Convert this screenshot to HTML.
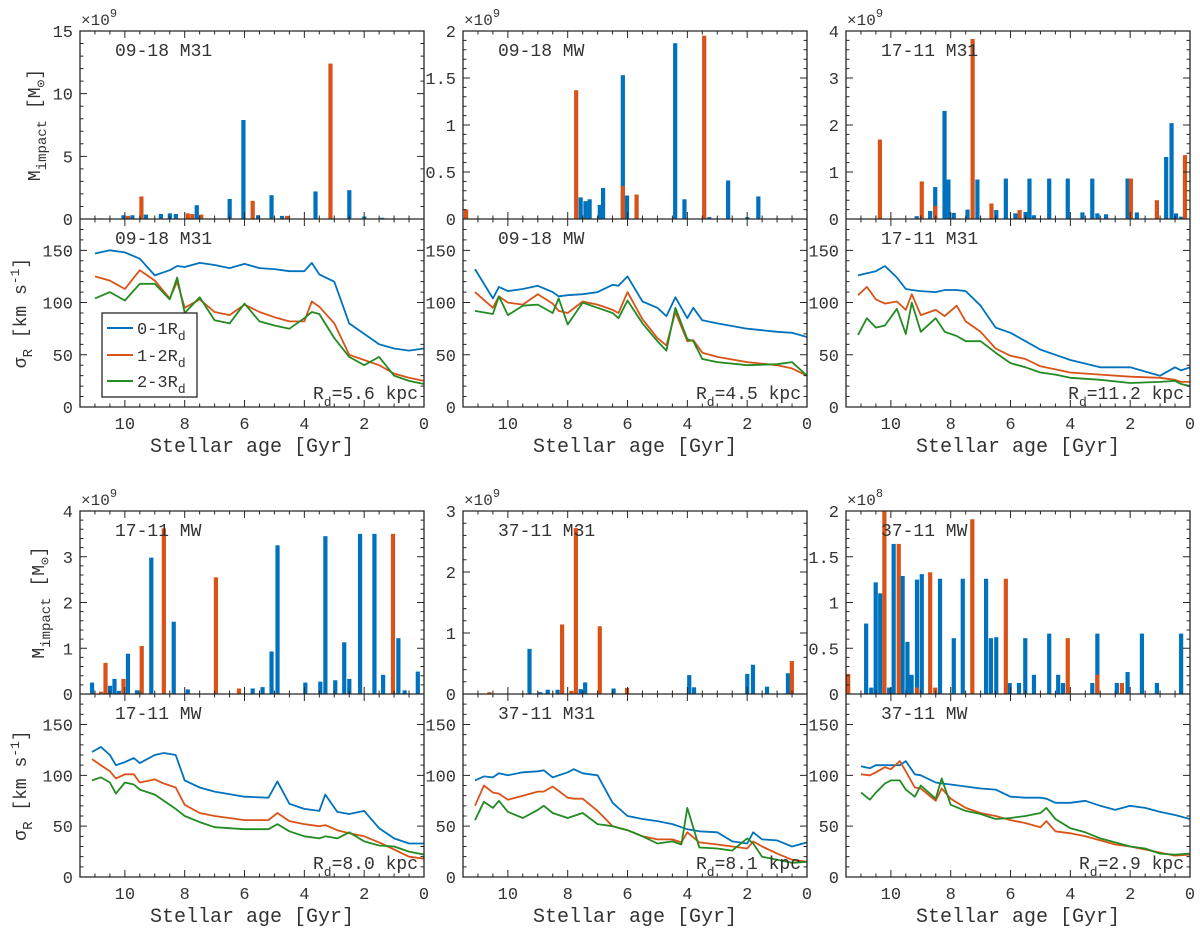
<!DOCTYPE html>
<html><head><meta charset="utf-8">
<style>
html,body{margin:0;padding:0;background:#fff;}
svg{display:block;}
text{font-family:"Liberation Mono","DejaVu Sans Mono",monospace;fill:#333;}
</style></head>
<body>
<svg id="fig" width="1200" height="934" viewBox="0 0 1200 934" xmlns="http://www.w3.org/2000/svg"></svg>
<script>
// ---------- DATA ----------
// Panel 1: 09-18 M31
const p1Ages   = [11,10.5,10,9.5,9,8.5,8.25,8,7.5,7,6.5,6,5.5,5,4.5,4,3.75,3.5,3,2.5,2,1.5,1,0.5,0];
const p1Blue   = [147,150,148,142,126,131,135,134,138,136,133,137,133,132,130,130,138,127,120,80,70,60,56,54,56];
const p1Orange = [125,121,113,131,121,104,120,95,103,91,88,98,91,86,82,82,101,96,80,50,45,40,32,28,25];
const p1Green  = [104,110,102,118,118,103,124,90,105,83,80,99,82,78,75,85,91,89,66,48,40,48,30,25,22];
const p1BarBlueAges  = [6.04,2.5,3.63,5.1,6.5,7.6,9.3,9.75,10.05,8.8,8.5,8.3,4.75,2.0,1.4,5.55];
const p1BarBlueVals  = [7.9,2.3,2.2,1.9,1.6,1.1,0.35,0.3,0.3,0.4,0.45,0.4,0.25,0.2,0.1,0.3];
const p1BarOrangeAges= [3.13,9.45,5.73,7.9,7.75,7.45,9.9,4.58,10.8];
const p1BarOrangeVals= [12.4,1.8,1.45,0.45,0.4,0.35,0.25,0.25,0.05];
const p1TopTicks = [0,5,10,15];

// Panel 2: 09-18 MW
const p2Ages   = [11.1,10.5,10.3,10,9.5,9,8.5,8.3,8,7.5,7,6.5,6.3,6,5.5,5,4.7,4.4,4,3.8,3.5,3,2,1,0.5,0];
const p2Blue   = [132,104,115,111,113,116,110,106,107,108,110,117,116,125,101,95,87,105,85,95,83,80,75,72,71,67];
const p2Orange = [110,95,106,100,98,108,99,92,90,101,98,93,90,110,84,66,59,91,63,64,52,48,43,40,37,30];
const p2Green  = [92,89,106,88,97,98,90,104,79,100,95,90,85,102,80,63,54,95,65,63,46,43,40,41,43,30];
const p2BarBlueAges  = [4.41,6.16,2.64,4.1,1.63,6.02,7.57,7.41,7.27,6.93,6.82,3.27,2.0];
const p2BarBlueVals  = [1.87,1.53,0.41,0.21,0.24,0.25,0.23,0.19,0.21,0.15,0.33,0.02,0.02];
const p2BarOrangeAges= [3.44,7.72,6.16,5.7,11.4];
const p2BarOrangeVals= [1.95,1.37,0.35,0.26,0.1];
const p2TopTicks = [0,0.5,1,1.5,2];

// Panel 3: 17-11 M31
const p3Ages   = [11.1,10.8,10.5,10.2,9.8,9.5,9.3,9,8.5,8.2,7.8,7.5,7,6.5,6,5.5,5,4.5,4,3,2,1,0.5,0.3,0];
const p3Blue   = [126,128,130,135,124,113,112,111,110,112,112,111,97,76,71,63,55,50,45,38,38,30,38,35,38];
const p3Orange = [107,115,103,99,101,93,108,88,93,87,97,82,72,56,49,46,39,36,33,31,29,28,26,24,24];
const p3Green  = [69,85,76,78,94,70,100,72,85,72,68,63,63,52,42,38,33,31,28,26,23,24,25,22,20];
const p3BarBlueAges  = [8.21,8.08,0.62,0.8,7.11,6.16,5.37,4.71,4.09,3.27,2.09,8.52,8.69,7.9,7.44,6.48,5.84,5.5,5.22,3.6,3.1,2.81,1.78,0.47,9.14,0.3];
const p3BarBlueVals  = [2.3,0.84,2.04,1.32,0.84,0.86,0.86,0.86,0.86,0.86,0.86,0.68,0.17,0.13,0.2,0.19,0.12,0.15,0.08,0.14,0.12,0.1,0.14,0.12,0.06,0.05];
const p3BarOrangeAges= [7.27,10.37,8.97,0.17,1.98,1.11,6.64,5.7,8.52];
const p3BarOrangeVals= [3.83,1.69,0.8,1.36,0.86,0.4,0.33,0.19,0.28];
const p3TopTicks = [0,1,2,3,4];

// Panel 4: 17-11 MW
const p4Ages   = [11.1,10.8,10.5,10.3,10,9.7,9.5,9,8.7,8.3,8,7.5,7,6,5.2,4.9,4.5,4,3.5,3.3,2.9,2.5,2,1.5,1,0.5,0];
const p4Blue   = [123,128,120,110,113,117,112,120,122,120,95,88,84,79,78,94,72,67,65,81,64,62,65,48,38,33,33];
const p4Orange = [116,110,104,97,101,101,93,96,92,88,71,63,60,56,56,63,55,52,50,51,46,43,40,34,27,20,18];
const p4Green  = [95,98,93,82,93,91,86,81,75,67,60,54,49,47,47,52,45,40,38,40,38,44,35,31,30,25,22];
const p4BarBlueAges  = [9.12,8.37,4.9,5.1,3.3,2.14,1.66,2.67,0.86,0.21,9.9,11.1,10.35,10.5,1.37,2.5,2.97,3.47,3.97,5.4,5.73,7.9,9.6,10.2,0.65];
const p4BarBlueVals  = [2.98,1.58,3.25,0.93,3.45,3.5,3.5,1.13,1.22,0.49,0.88,0.25,0.33,0.18,0.42,0.33,0.3,0.27,0.25,0.15,0.12,0.1,0.08,0.07,0.08];
const p4BarOrangeAges= [8.7,1.04,6.96,9.44,10.65,10.05,6.19,10.8];
const p4BarOrangeVals= [3.62,3.5,2.55,1.05,0.68,0.33,0.12,0.05];
const p4TopTicks = [0,1,2,3,4];

// Panel 5: 37-11 M31
const p5Ages   = [11.1,10.8,10.5,10.3,10,9.5,9,8.8,8.5,8,7.8,7.5,7,6.5,6,5.5,5,4.5,4.2,4,3.6,3,2.5,2,1.8,1.5,1,0.5,0];
const p5Blue   = [95,99,98,102,100,103,104,105,98,103,106,102,100,73,60,57,55,52,49,47,45,44,35,33,44,37,36,30,34];
const p5Orange = [70,90,83,82,76,80,84,84,89,78,77,77,65,50,46,40,37,37,34,44,34,32,30,28,35,30,23,17,15];
const p5Green  = [56,74,68,75,64,58,66,70,63,58,60,63,52,50,46,40,33,35,32,68,29,28,26,38,33,20,17,14,15];
const p5BarBlueAges  = [9.28,1.81,2.0,3.94,0.64,7.42,3.78,1.34,6.47,7.57,8.34,8.67,8.92];
const p5BarBlueVals  = [0.74,0.48,0.33,0.31,0.34,0.19,0.11,0.12,0.09,0.08,0.07,0.07,0.03];
const p5BarOrangeAges= [7.73,8.19,6.93,0.51,6.02,7.88,10.62];
const p5BarOrangeVals= [2.72,1.14,1.11,0.54,0.1,0.05,0.03];
const p5TopTicks = [0,1,2,3];

// Panel 6: 37-11 MW
const p6Ages   = [11,10.7,10.5,10.2,10,9.7,9.5,9.2,9,8.5,8.3,8,7.5,7,6.5,6,5.5,5,4.8,4.5,4,3.5,3,2.5,2,1.5,1,0.5,0];
const p6Blue   = [109,107,110,110,110,110,114,101,100,93,92,91,89,87,86,79,78,78,77,73,73,75,70,66,70,68,64,61,57];
const p6Orange = [101,100,103,108,106,114,104,88,87,75,87,77,68,63,60,56,53,49,55,45,43,40,36,32,30,27,24,21,22];
const p6Green  = [83,76,83,92,95,95,86,79,90,77,97,71,65,62,57,58,60,63,68,57,48,44,38,34,30,28,23,22,23];
const p6BarBlueAges  = [10.83,10.51,10.36,9.91,9.61,9.45,9.31,9.13,8.97,8.36,7.9,7.6,6.82,6.66,6.48,6.03,5.72,5.51,5.22,4.71,4.41,4.25,3.27,3.1,2.45,2.09,1.61,1.11,0.3,10.66,10.06];
const p6BarBlueVals  = [0.77,1.22,1.1,1.64,1.29,0.57,0.21,1.25,1.31,1.26,0.61,1.26,1.26,0.61,0.62,0.12,0.12,0.61,0.21,0.66,0.21,0.12,0.12,0.66,0.12,0.24,0.66,0.12,0.66,0.07,0.07];
const p6BarOrangeAges= [10.22,9.74,7.28,8.69,6.16,4.09,11.43,3.1,2.28,9.13,8.52];
const p6BarOrangeVals= [2.1,1.64,1.91,1.33,1.26,0.61,0.22,0.21,0.12,0.07,0.07];
const p6TopTicks = [0,0.5,1,1.5,2];

const xTickVals = [10,8,6,4,2,0];
const lowTickVals = [0,50,100,150];

// ---------- DRAWING ----------
const NS = "http://www.w3.org/2000/svg";
const svg = document.getElementById('fig');
const C_BLUE = '#0072BD', C_ORANGE = '#D95319', C_GREEN = '#228B22', C_AX = '#262626';
const colX = [80, 463, 846], W = 344, AGE_MAX = 11.5;
const rows = [{top:31, mid:219, bot:407}, {top:511, mid:694, bot:877}];

function mk(tag, parent) { const e = document.createElementNS(NS, tag); parent.appendChild(e); return e; }
function txt(parent, x, y, s, size, anchor) {
  const t = mk('text', parent);
  t.setAttribute('x', x); t.setAttribute('y', y);
  t.setAttribute('font-size', size); t.setAttribute('text-anchor', anchor || 'start');
  t.textContent = s; return t;
}

const panels = [
  {col:0,row:0,name:'09-18 M31',rd:'5.6',exp:'9',topMax:15,topMinor:1,topTicks:p1TopTicks,ages:p1Ages,b:p1Blue,o:p1Orange,g:p1Green,bbA:p1BarBlueAges,bbV:p1BarBlueVals,obA:p1BarOrangeAges,obV:p1BarOrangeVals,legend:true},
  {col:1,row:0,name:'09-18 MW',rd:'4.5',exp:'9',topMax:2,topMinor:0.1,topTicks:p2TopTicks,ages:p2Ages,b:p2Blue,o:p2Orange,g:p2Green,bbA:p2BarBlueAges,bbV:p2BarBlueVals,obA:p2BarOrangeAges,obV:p2BarOrangeVals},
  {col:2,row:0,name:'17-11 M31',rd:'11.2',exp:'9',topMax:4,topMinor:0.2,topTicks:p3TopTicks,ages:p3Ages,b:p3Blue,o:p3Orange,g:p3Green,bbA:p3BarBlueAges,bbV:p3BarBlueVals,obA:p3BarOrangeAges,obV:p3BarOrangeVals},
  {col:0,row:1,name:'17-11 MW',rd:'8.0',exp:'9',topMax:4,topMinor:0.2,topTicks:p4TopTicks,ages:p4Ages,b:p4Blue,o:p4Orange,g:p4Green,bbA:p4BarBlueAges,bbV:p4BarBlueVals,obA:p4BarOrangeAges,obV:p4BarOrangeVals},
  {col:1,row:1,name:'37-11 M31',rd:'8.1',exp:'9',topMax:3,topMinor:0.2,topTicks:p5TopTicks,ages:p5Ages,b:p5Blue,o:p5Orange,g:p5Green,bbA:p5BarBlueAges,bbV:p5BarBlueVals,obA:p5BarOrangeAges,obV:p5BarOrangeVals},
  {col:2,row:1,name:'37-11 MW',rd:'2.9',exp:'8',topMax:2,topMinor:0.1,topTicks:p6TopTicks,ages:p6Ages,b:p6Blue,o:p6Orange,g:p6Green,bbA:p6BarBlueAges,bbV:p6BarBlueVals,obA:p6BarOrangeAges,obV:p6BarOrangeVals}
];

panels.forEach((p, pi) => {
  const x0 = colX[p.col], x1 = x0 + W, r = rows[p.row];
  const xs = a => x1 - a / AGE_MAX * W;
  const yTop = v => r.mid - v / p.topMax * (r.mid - r.top);
  const yLow = v => r.bot - v / 180 * (r.bot - r.mid);
  const g = mk('g', svg);
  
  
  const clipId = 'clip' + pi;
  const cp = mk('clipPath', g); cp.setAttribute('id', clipId);
  const cr = mk('rect', cp); cr.setAttribute('x', x0); cr.setAttribute('y', r.top); cr.setAttribute('width', W); cr.setAttribute('height', r.mid - r.top);
  const cp2 = mk('clipPath', g); cp2.setAttribute('id', clipId + 'b');
  const cr2 = mk('rect', cp2); cr2.setAttribute('x', x0); cr2.setAttribute('y', r.mid); cr2.setAttribute('width', W); cr2.setAttribute('height', r.bot - r.mid);

  // bars
  const bars = mk('g', g); bars.setAttribute('clip-path', 'url(#' + clipId + ')');
  
  
  function bar(a, v, col, nm) {
    const b = mk('rect', bars);
    
    
    b.setAttribute('x', xs(a) - 2); b.setAttribute('width', 4.2);
    b.setAttribute('y', yTop(v)); b.setAttribute('height', r.mid - yTop(v));
    b.setAttribute('fill', col);
  }
  p.bbA.forEach((a, i) => bar(a, p.bbV[i], C_BLUE, 'bar-blue'));
  p.obA.forEach((a, i) => bar(a, p.obV[i], C_ORANGE, 'bar-orange'));

  // lines
  const lines = mk('g', g); lines.setAttribute('clip-path', 'url(#' + clipId + 'b)');
  [[p.b, C_BLUE, 'line-0-1rd'], [p.o, C_ORANGE, 'line-1-2rd'], [p.g, C_GREEN, 'line-2-3rd']].forEach(([vals, col, nm]) => {
    const pl = mk('polyline', lines);
    
    
    pl.setAttribute('points', p.ages.map((a, i) => xs(a).toFixed(1) + ',' + yLow(vals[i]).toFixed(1)).join(' '));
    pl.setAttribute('fill', 'none'); pl.setAttribute('stroke', col); pl.setAttribute('stroke-width', 1.8);
    pl.setAttribute('stroke-linejoin', 'round');
  });

  // ticks
  const tk = mk('path', g);
  
  
  let d = '';
  for (let a = 0; a <= AGE_MAX + 1e-6; a += 0.5) {
    const X = xs(a), L = (Math.abs(a % 2) < 1e-6) ? 7 : 3.5;
    d += `M${X},${r.top}v${L}M${X},${r.mid}v${-L}M${X},${r.mid}v${L}M${X},${r.bot}v${-L}`;
  }
  for (let v = 0; v <= p.topMax + 1e-6; v += p.topMinor) {
    const Y = yTop(v); const maj = p.topTicks.some(t => Math.abs(t - v) < 1e-6); const L = maj ? 7 : 3.5;
    d += `M${x0},${Y}h${L}M${x1},${Y}h${-L}`;
  }
  for (let v = 0; v <= 180; v += 10) {
    const Y = yLow(v); const L = (v % 50 === 0) ? 7 : 3.5;
    d += `M${x0},${Y}h${L}M${x1},${Y}h${-L}`;
  }
  tk.setAttribute('d', d); tk.setAttribute('stroke', C_AX); tk.setAttribute('stroke-width', 1); tk.setAttribute('fill', 'none');

  // frames
  const fr = mk('path', g);
  
  
  fr.setAttribute('d', `M${x0},${r.top}H${x1}V${r.bot}H${x0}ZM${x0},${r.mid}H${x1}`);
  fr.setAttribute('stroke', C_AX); fr.setAttribute('stroke-width', 1.3); fr.setAttribute('fill', 'none');

  // tick labels
  p.topTicks.forEach(v => {
    const t = txt(g, x0 - 7, yTop(v) + 6, String(v), 17, 'end');
    
    
  });
  lowTickVals.forEach(v => {
    const t = txt(g, x0 - 7, yLow(v) + 6, String(v), 17, 'end');
    
    
  });
  xTickVals.forEach(v => {
    const t = txt(g, xs(v), r.bot + 22, String(v), 17, 'middle');
    
    
  });
  const xl = txt(g, x0 + W / 2, r.bot + 45, 'Stellar age [Gyr]', 20, 'middle');
  
  

  // exponent
  const ex = txt(g, x0 + 1, r.top - 6, '×10', 16, 'start');
  
  
  const sup = mk('tspan', ex); sup.setAttribute('dy', -8); sup.setAttribute('font-size', 12); sup.textContent = p.exp;

  // panel labels
  const l1 = txt(g, x0 + 35, r.top + 25, p.name, 18, 'start');
  
  
  const l2 = txt(g, x0 + 35, r.mid + 25, p.name, 18, 'start');
  
  

  // Rd
  const rd = txt(g, x1 - 6, r.bot - 8, 'R', 18, 'end');
  
  
  const sd = mk('tspan', rd); sd.setAttribute('dy', 7); sd.setAttribute('font-size', 13); sd.textContent = 'd';
  const sr = mk('tspan', rd); sr.setAttribute('dy', -7); sr.textContent = '=' + p.rd + ' kpc';

  // y-axis titles (left column only)
  if (p.col === 0) {
    const cy1 = (r.top + r.mid) / 2, cy2 = (r.mid + r.bot) / 2;
    const yt = mk('text', g);
    
    
    const ax = p.row === 0 ? 40 : 44;
    yt.setAttribute('transform', `translate(${ax},${cy1}) rotate(-90)`);
    yt.setAttribute('text-anchor', 'middle'); yt.setAttribute('font-size', 18);
    yt.appendChild(document.createTextNode('M'));
    let s = mk('tspan', yt); s.setAttribute('dy', 6); s.setAttribute('font-size', 14); s.textContent = 'impact';
    s = mk('tspan', yt); s.setAttribute('dy', -6); s.textContent = '  [M';
    s = mk('tspan', yt); s.setAttribute('dy', 5); s.setAttribute('font-size', 13); s.textContent = '⊙';
    s = mk('tspan', yt); s.setAttribute('dy', -5); s.textContent = ']';
    const yt2 = mk('text', g);
    
    
    yt2.setAttribute('transform', `translate(26,${cy2}) rotate(-90)`);
    yt2.setAttribute('text-anchor', 'middle'); yt2.setAttribute('font-size', 18);
    yt2.setAttribute('font-family', '"Liberation Mono","DejaVu Sans",monospace');
    yt2.appendChild(document.createTextNode('σ'));
    s = mk('tspan', yt2); s.setAttribute('dy', 6); s.setAttribute('font-size', 14); s.textContent = 'R';
    s = mk('tspan', yt2); s.setAttribute('dy', -6); s.textContent = '  [km s';
    s = mk('tspan', yt2); s.setAttribute('dy', -7); s.setAttribute('font-size', 13); s.textContent = '-1';
    s = mk('tspan', yt2); s.setAttribute('dy', 7); s.textContent = ']';
  }

  // legend
  if (p.legend) {
    const lg = mk('g', g);
    
    
    const box = mk('rect', lg);
    box.setAttribute('x', 102); box.setAttribute('y', 313); box.setAttribute('width', 95); box.setAttribute('height', 84);
    box.setAttribute('fill', '#fff'); box.setAttribute('stroke', C_AX); box.setAttribute('stroke-width', 1.3);
    [['0-1R', C_BLUE, 328], ['1-2R', C_ORANGE, 355], ['2-3R', C_GREEN, 381]].forEach(([lab, col, y]) => {
      const ln = mk('line', lg);
      
      
      ln.setAttribute('x1', 107); ln.setAttribute('x2', 133); ln.setAttribute('y1', y); ln.setAttribute('y2', y);
      ln.setAttribute('stroke', col); ln.setAttribute('stroke-width', 2);
      const t = txt(lg, 137, y + 6, lab, 17, 'start');
      
      
      const sb = mk('tspan', t); sb.setAttribute('dy', 6); sb.setAttribute('font-size', 13); sb.textContent = 'd';
    });
  }
});
</script>
</body></html>
